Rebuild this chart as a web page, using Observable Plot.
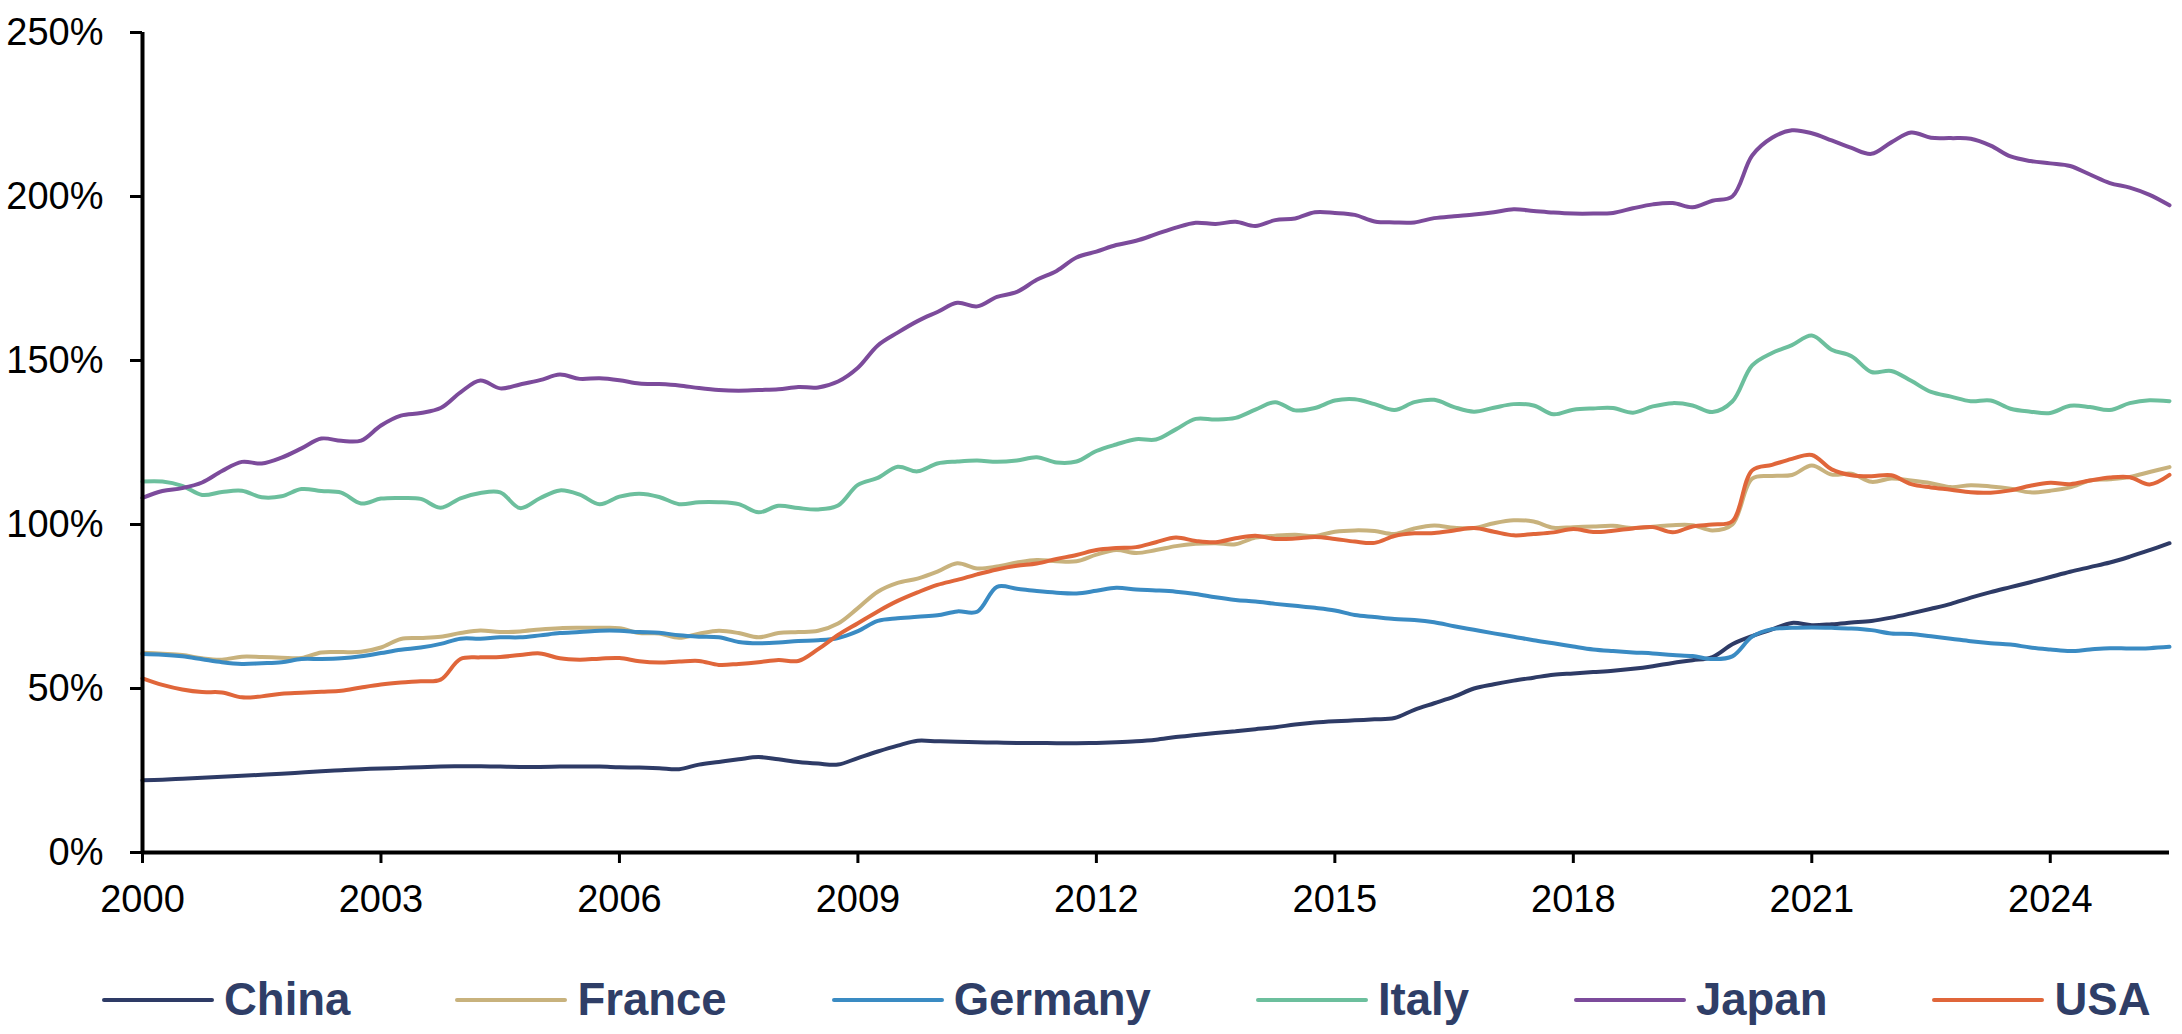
<!DOCTYPE html>
<html>
<head>
<meta charset="utf-8">
<script src="https://cdn.jsdelivr.net/npm/d3@7"></script>
<script src="https://cdn.jsdelivr.net/npm/@observablehq/plot@0.6"></script>
<style>
  html, body { margin: 0; padding: 0; background: #ffffff; }
  body { width: 2182px; height: 1034px; overflow: hidden; font-family: "Liberation Sans", Arial, sans-serif; }
  #chart svg { display: block; }
  .legend { display: flex; align-items: center; height: 46px; margin-top: 47px; padding-left: 102px; }
  .legend .item { display: flex; align-items: center; margin-right: 105px; }
  .legend .swatch { width: 112px; height: 4px; border-radius: 2px; margin-right: 10px; }
  .legend .label { font-size: 45.5px; font-weight: bold; color: #2f3e67; line-height: 46px; }
</style>
</head>
<body>
<div id="chart"></div>
<div class="legend" id="legend"></div>
<script>
// Quarterly series, % of GDP, starting Q1 2000
const startYear = 2000;
const stepYears = 0.25;

const countries = ["China", "France", "Germany", "Italy", "Japan", "USA"];
const colors = ["#2e3b66", "#c8b27d", "#3a8bc3", "#6cbf9d", "#7c4b9b", "#e0663a"];

const china = [
  22.0, 22.2, 22.5, 22.8, 23.1, 23.4, 23.7, 24.0, 24.4, 24.8, 25.1, 25.4,
  25.6, 25.8, 26.0, 26.2, 26.3, 26.3, 26.2, 26.1, 26.1, 26.2, 26.2, 26.2,
  26.0, 25.9, 25.7, 25.4, 26.8, 27.6, 28.4, 29.1, 28.4, 27.6, 27.1, 26.8,
  28.8, 30.8, 32.6, 34.1, 33.9, 33.8, 33.6, 33.5, 33.4, 33.4, 33.3, 33.3,
  33.4, 33.6, 33.9, 34.4, 35.2, 35.8, 36.4, 37.0, 37.6, 38.2, 39.0, 39.6,
  40.0, 40.3, 40.6, 41.0, 43.5, 45.5, 47.5, 50.0, 51.3, 52.4, 53.3, 54.2,
  54.6, 55.0, 55.4, 56.0, 56.8, 57.8, 58.6, 59.6, 63.5, 66.0, 68.0, 70.0,
  69.3, 69.6, 70.1, 70.6, 71.6, 72.9, 74.3, 75.8, 77.7, 79.4, 80.9, 82.4,
  84.0, 85.6, 87.0, 88.4, 90.2, 92.2, 94.3
];

const france = [
  60.9, 60.6, 60.2, 59.2, 58.8, 59.7, 59.6, 59.4, 59.3, 61.0, 61.1, 61.2,
  62.5, 65.1, 65.4, 65.8, 66.9, 67.7, 67.2, 67.4, 68.0, 68.4, 68.5, 68.5,
  68.4, 66.9, 66.8, 65.5, 66.7, 67.6, 66.9, 65.6, 66.9, 67.2, 67.6, 69.8,
  74.5, 79.5, 82.2, 83.5, 85.6, 88.2, 86.6, 87.2, 88.4, 89.2, 88.8, 88.8,
  90.8, 92.2, 91.3, 92.2, 93.4, 94.1, 94.3, 94.0, 96.0, 96.6, 96.9, 96.5,
  97.8, 98.2, 98.0, 97.1, 98.8, 99.7, 99.0, 98.9, 100.4, 101.3, 100.9, 99.0,
  99.2, 99.4, 99.6, 98.9, 99.3, 99.8, 99.8, 98.2, 100.0, 114.0, 114.8, 115.1,
  118.0, 115.2, 115.5, 113.0, 114.0, 113.4, 112.6, 111.4, 112.0, 111.6, 110.9, 109.8,
  110.3, 111.3, 113.4, 113.8, 114.5, 116.0, 117.5
];

const germany = [
  60.5, 60.3, 59.8, 58.9, 58.0, 57.5, 57.7, 58.0, 59.0, 59.0, 59.2, 59.8,
  60.8, 61.8, 62.5, 63.6, 65.2, 65.2, 65.6, 65.6, 66.2, 66.9, 67.2, 67.6,
  67.6, 67.2, 67.0, 66.2, 65.8, 65.6, 64.2, 63.8, 64.0, 64.5, 64.7, 65.4,
  67.5, 70.6, 71.4, 71.9, 72.3, 73.5, 73.4, 81.0, 80.4, 79.7, 79.2, 79.0,
  79.8, 80.7, 80.2, 79.9, 79.5, 78.8, 77.8, 77.0, 76.5, 75.8, 75.2, 74.6,
  73.8, 72.4, 71.8, 71.2, 70.9, 70.2, 69.0, 67.9, 66.8, 65.8, 64.7, 63.8,
  62.8, 61.9, 61.4, 61.0, 60.7, 60.2, 59.9, 59.0, 59.8, 65.8, 68.1, 68.5,
  68.6, 68.5, 68.3, 67.8, 66.8, 66.6, 65.9, 65.2, 64.4, 63.8, 63.4, 62.5,
  61.9, 61.4, 61.9, 62.3, 62.2, 62.3, 62.7
];

const italy = [
  113.1, 113.1, 111.8, 109.0, 109.9, 110.3, 108.3, 108.6, 110.8, 110.2, 109.7, 106.4,
  107.9, 108.1, 107.8, 105.1, 108.0, 109.6, 109.8, 105.0, 108.0, 110.4, 109.1, 106.2,
  108.5, 109.4, 108.4, 106.2, 106.8, 106.8, 106.2, 103.7, 105.7, 105.0, 104.6, 105.8,
  112.1, 114.2, 117.6, 116.2, 118.6, 119.2, 119.5, 119.1, 119.5, 120.5, 118.9, 119.2,
  122.4, 124.4, 126.0, 125.9, 129.0, 132.2, 132.0, 132.5, 135.0, 137.3, 134.8, 135.5,
  137.8, 138.2, 136.7, 134.9, 137.3, 138.0, 135.8, 134.4, 135.6, 136.7, 136.3, 133.6,
  135.0, 135.4, 135.5, 134.1, 136.0, 137.0, 136.3, 134.3, 137.5, 148.5, 152.3, 154.7,
  157.6, 153.3, 151.3, 146.5, 146.8, 143.8, 140.4, 139.0, 137.6, 137.8, 135.3, 134.4,
  134.0, 136.2, 135.8, 134.9, 137.0, 137.9, 137.6
];

const japan = [
  108.1, 110.2, 111.1, 112.8, 116.3, 119.1, 118.6, 120.4, 123.2, 126.2, 125.5, 125.6,
  130.2, 133.2, 134.0, 135.5, 140.3, 143.9, 141.5, 142.7, 144.0, 145.7, 144.4, 144.6,
  144.0, 143.0, 142.8, 142.4, 141.6, 141.0, 140.8, 141.0, 141.2, 141.9, 141.8, 143.6,
  147.8, 154.6, 158.5, 162.0, 164.8, 167.6, 166.5, 169.4, 170.9, 174.6, 177.3, 181.4,
  183.2, 185.2, 186.5, 188.5, 190.5, 192.0, 191.6, 192.3, 191.0, 192.8, 193.3, 195.2,
  195.0, 194.4, 192.4, 192.1, 192.1, 193.4, 194.0, 194.5, 195.2, 196.1, 195.6, 195.1,
  194.8, 194.8, 195.0, 196.4, 197.6, 198.0, 196.7, 198.7, 200.0, 212.5, 217.9, 220.2,
  219.3, 217.1, 214.8, 213.0, 216.5, 219.5, 217.9, 217.8, 217.6, 215.5, 212.2, 210.8,
  210.1, 209.3, 206.7, 204.1, 202.7, 200.5, 197.3
];

const usa = [
  53.1, 51.1, 49.7, 48.9, 48.8, 47.3, 47.6, 48.4, 48.7, 49.0, 49.3, 50.3,
  51.2, 51.8, 52.2, 52.7, 59.0, 59.5, 59.6, 60.2, 60.7, 59.2, 58.8, 59.1,
  59.3, 58.3, 57.9, 58.2, 58.4, 57.2, 57.5, 58.0, 58.7, 58.4, 62.0, 66.3,
  69.9, 73.5, 76.7, 79.3, 81.6, 83.1, 84.8, 86.3, 87.4, 88.1, 89.5, 90.7,
  92.2, 92.8, 93.1, 94.6, 96.0, 95.0, 94.6, 95.8, 96.6, 95.6, 95.7, 96.2,
  95.6, 94.8, 94.4, 96.5, 97.3, 97.4, 98.2, 98.9, 97.8, 96.7, 97.1, 97.6,
  98.6, 97.7, 98.1, 98.8, 99.2, 97.6, 99.4, 100.0, 101.0, 116.5, 118.2, 120.0,
  121.2, 116.8, 115.0, 114.7, 115.0, 112.3, 111.3, 110.6, 109.8, 109.7, 110.4, 111.8,
  112.7, 112.3, 113.4, 114.3, 114.4, 112.2, 115.1
];

const xTicks = [2000, 2003, 2006, 2009, 2012, 2015, 2018, 2021, 2024];
const yTicks = [0, 50, 100, 150, 200, 250];

// Long table for the line marks
const seriesValues = [china, france, germany, italy, japan, usa];
const rows = [];
countries.forEach((country, k) => {
  seriesValues[k].forEach((v, i) => {
    rows.push({country, year: startYear + i * stepYears, value: v});
  });
});
const lastYear = startYear + (china.length - 1) * stepYears;

const chart = Plot.plot({
  width: 2182,
  height: 930,
  marginLeft: 142,
  marginRight: 13,
  marginTop: 32,
  marginBottom: 78,
  style: {fontFamily: "'Liberation Sans', Arial, sans-serif", fontSize: "38px", color: "#000", background: "#fff"},
  x: {type: "linear", domain: [startYear, lastYear]},
  y: {domain: [0, 250]},
  color: {domain: countries, range: colors},
  marks: [
    Plot.axisY({
      ticks: yTicks,
      tickFormat: d => d + "%",
      tickSize: 12,
      tickPadding: 27,
      strokeWidth: 3,
      fontSize: 38,
      label: null
    }),
    Plot.axisX({
      ticks: xTicks,
      tickFormat: d => String(d),
      tickSize: 11,
      tickPadding: 22,
      strokeWidth: 3,
      fontSize: 38,
      label: null
    }),
    Plot.line(rows, {
      x: "year",
      y: "value",
      z: "country",
      stroke: "country",
      strokeWidth: 4,
      curve: "catmull-rom"
    }),
    Plot.ruleX([startYear], {stroke: "#000", strokeWidth: 4}),
    Plot.ruleY([0], {stroke: "#000", strokeWidth: 4})
  ]
});
document.getElementById("chart").appendChild(chart);

// Legend below the plot
const legend = d3.select("#legend");
countries.forEach((c, i) => {
  const item = legend.append("div").attr("class", "item");
  item.append("span").attr("class", "swatch").style("background", colors[i]);
  item.append("span").attr("class", "label").text(c);
});
</script>
</body>
</html>
